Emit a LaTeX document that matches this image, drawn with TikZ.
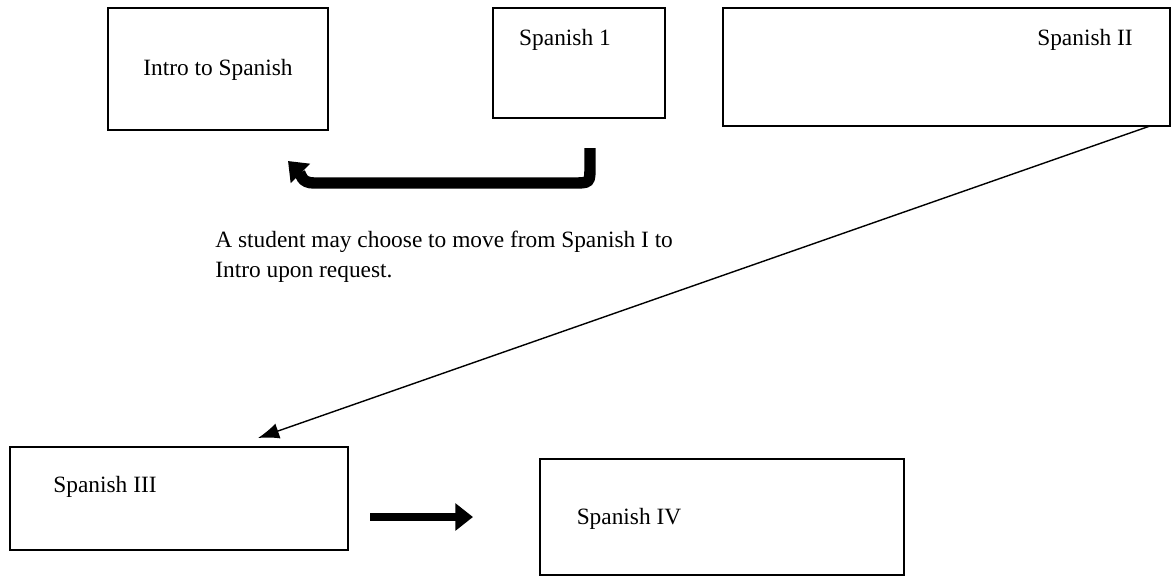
\documentclass[tikz,border=0pt]{standalone}
\usepackage{fontspec}
\setmainfont{Liberation Serif}
\usetikzlibrary{arrows.meta}
\tikzset{
	course/.style={draw, line width=0.8pt, inner sep=0pt},
	coursetext/.style={font=\fontsize{13.3}{16}\selectfont, inner sep=0pt},
	fatarrow/.style={line width=5pt, -{Triangle[length=10pt, width=15pt]}},
	thinarrow/.style={line width=0.8pt, -{Latex[length=12pt, width=9pt]}}
}

\begin{document}
\begin{tikzpicture}[x=0.02cm, y=-0.02cm]
		%%%%% START %%%%%
		
		\useasboundingbox (0, 0) rectangle (1171, 576);
		
		\node[course, minimum width=4.4cm, minimum height=2.44cm] (intro) at (218, 69) {};
		\node[coursetext] (introtext) at (218, 70) {Intro to Spanish};
		
		\node[course, minimum width=3.44cm, minimum height=2.2cm] (spone) at (579, 63) {};
		\node[coursetext] (sponetext) at (565, 40) {Spanish 1};
		
		\node[course, minimum width=8.94cm, minimum height=2.36cm] (sptwo) at (946.5, 67) {};
		\node[coursetext] (sptwotext) at (1085, 40) {Spanish II};
		
		\node[course, minimum width=6.76cm, minimum height=2.06cm] (spthree) at (179, 498.5) {};
		\node[coursetext] (spthreetext) at (105, 487) {Spanish III};
		
		\node[course, minimum width=7.28cm, minimum height=2.32cm] (spfour) at (722, 517) {};
		\node[coursetext] (spfourtext) at (629, 519) {Spanish IV};
		
		% move down from Spanish I
		\coordinate (backstart) at (590, 148);
		\coordinate (backend) at (288, 161);
		\draw[fatarrow, line width=6.5pt] (backstart) -- (590, 166) .. controls (590, 183) .. (573, 183)
			-- (314, 183) .. controls (301, 183) and (301, 174) .. (backend);
		
		\node[coursetext, anchor=north west, align=left] (note) at (215, 231)
			{A student may choose to move from Spanish I to\\[1pt]Intro upon request.};
		
		% Spanish II on to Spanish III
		\coordinate (twoend) at (1150, 126);
		\coordinate (threetop) at (258, 438);
		\draw[thinarrow] (twoend) -- (threetop);
		
		\coordinate (nextstart) at (370, 517);
		\coordinate (nextend) at (473, 517);
		\draw[fatarrow] (nextstart) -- (nextend);
		
		%%%%% END %%%%%
	\end{tikzpicture}
\end{document}
